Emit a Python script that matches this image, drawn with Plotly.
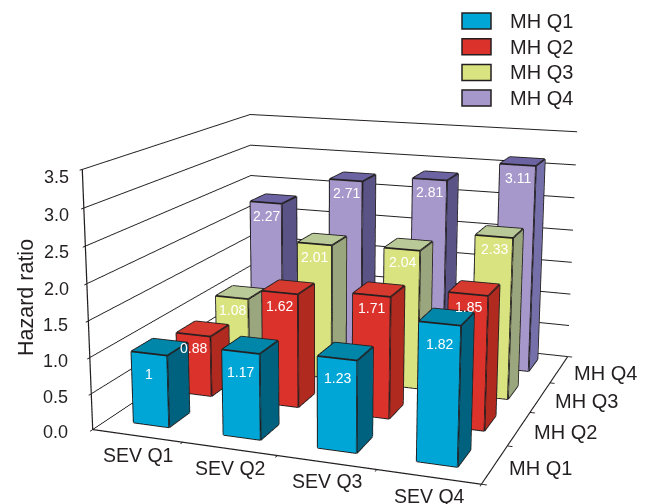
import plotly.graph_objects as go

SEV_LABELS = ["SEV Q1", "SEV Q2", "SEV Q3", "SEV Q4"]
MH_LABELS = ["MH Q1", "MH Q2", "MH Q3", "MH Q4"]
MH_Q1 = [1.00, 1.17, 1.23, 1.82]
MH_Q2 = [0.88, 1.62, 1.71, 1.85]
MH_Q3 = [1.08, 2.01, 2.04, 2.33]
MH_Q4 = [2.27, 2.71, 2.81, 3.11]
VALUE_LABELS = [["1", "1.17", "1.23", "1.82"],
                ["0.88", "1.62", "1.71", "1.85"],
                ["1.08", "2.01", "2.04", "2.33"],
                ["2.27", "2.71", "2.81", "3.11"]]
SERIES = [MH_Q1, MH_Q2, MH_Q3, MH_Q4]
HR_TICKS = [0.0, 0.5, 1.0, 1.5, 2.0, 2.5, 3.0, 3.5]

FRONT = ["#00A7D6", "#DC322C", "#D9E37F", "#A698CB"]
TOP = ["#0086A8", "#D63A2E", "#B9CA98", "#6C64A2"]
SIDE = ["#00627F", "#B02A20", "#9AA77E", "#5A5385"]
INK = "#231F20"
FONT = "Liberation Sans"

# The drawing surface is larger than the window so that the lens is long.
SIZE = 1176
OFF_X, OFF_Y = 265, 336
BAR_W, BAR_D = 0.40, 0.46
SHIFT_X, SHIFT_Y = -0.01, 0.05


def px(x):
    return (x + OFF_X) / SIZE


def py(y):
    return 1 - (y + OFF_Y) / SIZE


fig = go.Figure()

for m, values in enumerate(SERIES):
    vx, vy, vz, ia, ib, ic, colors = [], [], [], [], [], [], []
    ex, ey, ez = [], [], []
    for s, v in enumerate(values):
        x0, x1 = s + 0.5 + SHIFT_X - BAR_W / 2, s + 0.5 + SHIFT_X + BAR_W / 2
        y0, y1 = m + 0.5 + SHIFT_Y - BAR_D / 2, m + 0.5 + SHIFT_Y + BAR_D / 2
        base = len(vx)
        for cx, cy, cz in [(x0, y0, 0), (x1, y0, 0), (x1, y1, 0), (x0, y1, 0),
                           (x0, y0, v), (x1, y0, v), (x1, y1, v), (x0, y1, v)]:
            vx.append(cx); vy.append(cy); vz.append(cz)
        faces = [((0, 1, 5, 4), FRONT[m]), ((3, 2, 6, 7), FRONT[m]),
                 ((4, 5, 6, 7), TOP[m]), ((0, 1, 2, 3), TOP[m]),
                 ((1, 2, 6, 5), SIDE[m]), ((0, 3, 7, 4), SIDE[m])]
        # the tallest back-row bar at the right has a lighter flank
        for (a, b, c, d), col in faces:
            if m == 3 and s == 3 and col == SIDE[m]:
                col = "#7570AA"
            ia += [base + a, base + a]
            ib += [base + b, base + c]
            ic += [base + c, base + d]
            colors += [col, col]
        for a, b in [(0, 1), (1, 2), (2, 3), (3, 0), (4, 5), (5, 6), (6, 7), (7, 4),
                     (0, 4), (1, 5), (2, 6), (3, 7)]:
            ex += [vx[base + a], vx[base + b], None]
            ey += [vy[base + a], vy[base + b], None]
            ez += [vz[base + a], vz[base + b], None]
    fig.add_trace(go.Mesh3d(x=vx, y=vy, z=vz, i=ia, j=ib, k=ic, facecolor=colors,
                            flatshading=True, hoverinfo="skip",
                            lighting=dict(ambient=1, diffuse=0, specular=0, fresnel=0, roughness=1)))
    fig.add_trace(go.Scatter3d(x=ex, y=ey, z=ez, mode="lines", hoverinfo="skip",
                               line=dict(color=INK, width=3.5), showlegend=False))

scene_notes = []
for m, values in enumerate(SERIES):
    for s, v in enumerate(values):
        scene_notes.append(dict(x=s + 0.5 + SHIFT_X, y=m + 0.5 + SHIFT_Y - BAR_D / 2, z=v,
                                text=VALUE_LABELS[m][s],
                                showarrow=False, xanchor="center", yanchor="middle",
                                yshift=-20 if m == 0 else -13,
                                font=dict(family=FONT, size=14, color="white")))
for s, name in enumerate(SEV_LABELS):
    scene_notes.append(dict(x=s + 0.5, y=0, z=0, text=name, showarrow=False, xshift=1, yshift=-19,
                            xanchor="center", yanchor="middle",
                            font=dict(family=FONT, size=19.5, color=INK)))
for m, name in enumerate(MH_LABELS):
    scene_notes.append(dict(x=4, y=m + 0.5, z=0, text=name, showarrow=False, xshift=46, yshift=-3.5,
                            xanchor="center", yanchor="middle",
                            font=dict(family=FONT, size=20, color=INK)))
for t in HR_TICKS:
    # Value labels sit in one right-aligned column while the axis leans inward.
    scene_notes.append(dict(x=0, y=0, z=t, text=f"{t:.1f}", showarrow=False,
                            xanchor="right", yanchor="middle",
                            xshift=-(23 - 3.4 * t), yshift=-2 - 1.6 * t,
                            font=dict(family=FONT, size=18, color=INK)))

boundary_ticks = [0, 1, 2, 3, 4]
plain_axis = dict(showbackground=False, showgrid=False, zeroline=False, showspikes=False,
                  showline=True, linecolor=INK, linewidth=2.5, ticks="outside", ticklen=4,
                  tickcolor=INK, tickwidth=2, showticklabels=False, title=dict(text=""),
                  tickmode="array", tickvals=boundary_ticks, range=[0, 4])

fig.update_layout(
    width=SIZE, height=SIZE, margin=dict(l=0, r=0, t=0, b=0), showlegend=False,
    paper_bgcolor="white",
    scene=dict(
        domain=dict(x=[0, 1], y=[0, 1]),
        aspectmode="manual", aspectratio=dict(x=0.99, y=1.005, z=0.655),
        camera=dict(eye=dict(x=1.204, y=-3.417, z=0.9215),
                    center=dict(x=-0.0670, y=-0.0144, z=0.0522),
                    up=dict(x=0, y=0, z=1)),
        xaxis=plain_axis, yaxis=plain_axis,
        zaxis=dict(showbackground=False, showgrid=True, gridcolor=INK, gridwidth=2,
                   zeroline=False, showspikes=False, showline=True, linecolor=INK, linewidth=2.5,
                   ticks="outside", ticklen=4, tickcolor=INK, tickwidth=2,
                   tickmode="array", tickvals=HR_TICKS, showticklabels=False,
                   title=dict(text=""), range=[0, 3.5]),
        annotations=scene_notes,
    ),
)

# Legend block and rotated value-axis title, positioned in window pixels.
for m, name in enumerate(MH_LABELS):
    top = 13 + m * 25.7
    fig.add_shape(type="rect", xref="paper", yref="paper", x0=px(462), x1=px(491),
                  y0=py(top), y1=py(top + 16), fillcolor=FRONT[m],
                  line=dict(color=INK, width=1.5))
    fig.add_annotation(xref="paper", yref="paper", x=px(508), y=py(top + 8), text=name,
                       showarrow=False, xanchor="left", yanchor="middle",
                       font=dict(family=FONT, size=20, color=INK))
fig.add_annotation(xref="paper", yref="paper", x=px(26), y=py(298), text="Hazard ratio",
                   textangle=-90, showarrow=False, xanchor="center", yanchor="middle",
                   font=dict(family=FONT, size=21.5, color=INK))

place_view = f"""
var gd = document.getElementById('{{plot_id}}');
document.documentElement.style.overflow = 'hidden';
document.body.style.overflow = 'hidden';
gd.parentElement.style.cssText = 'position:fixed;left:0;top:0;width:646px;height:504px;overflow:hidden';
gd.style.position = 'absolute';
gd.style.left = '-{OFF_X}px';
gd.style.top = '-{OFF_Y}px';
gd.style.width = '{SIZE}px';
gd.style.height = '{SIZE}px';
"""

fig.write_html("out.html", post_script=place_view)
